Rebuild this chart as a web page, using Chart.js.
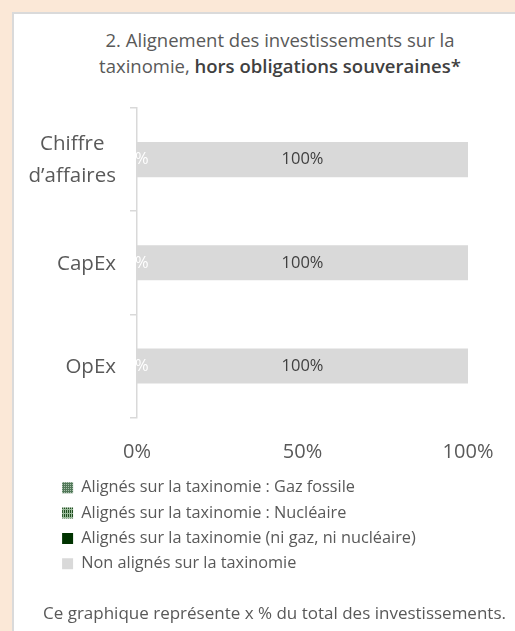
<!DOCTYPE html>
<html lang="fr">
<head>
<meta charset="utf-8">
<script src="https://cdn.jsdelivr.net/npm/chart.js@4/dist/chart.umd.min.js"></script>
<style>
  html, body { margin: 0; padding: 0; }
  body { width: 515px; height: 631px; background: #fbe8d7; position: relative; overflow: hidden; font-family: "Open Sans", sans-serif; color: #595959; }
  #cadre { position: absolute; left: 12px; top: 12px; width: 520px; height: 640px; background: #fff; border: 2px solid #dadada; box-sizing: border-box; }
  #titre { position: absolute; left: 30px; top: 27px; width: 500px; text-align: center; font-size: 18.5px; line-height: 26px; }
  #titre b { color: #404040; font-weight: 600; }
  #note { position: absolute; left: 43px; top: 601px; font-size: 17px; white-space: nowrap; }
  #graph { position: absolute; left: 0; top: 0; }
</style>
</head>
<body>
<div id="cadre"></div>
<div id="titre">2. Alignement des investissements sur la<br>taxinomie, <b>hors obligations souveraines*</b></div>
<canvas id="graph" width="515" height="631"></canvas>
<div id="note">Ce graphique représente x % du total des investissements.</div>
<script>
// categories et valeurs (%)
var categories = [['Chiffre', 'd’affaires'], ['CapEx'], ['OpEx']];
var gazFossile = [0, 0, 0];
var nucleaire = [0, 0, 0];
var alignes = [0, 0, 0];
var nonAlignes = [100, 100, 100];
var ticksX = [0, 50, 100];

var police = '"Open Sans"';

// petits motifs pour gaz et nucleaire
function motif(fond, trait, type) {
	var c = document.createElement('canvas');
	c.width = 4; c.height = 4;
	var g = c.getContext('2d');
	g.fillStyle = fond;
	g.fillRect(0, 0, 4, 4);
	g.fillStyle = trait;
	if (type === 'points') {
		g.fillRect(0, 0, 1, 1); g.fillRect(2, 2, 1, 1);
		g.fillRect(2, 0, 1, 1); g.fillRect(0, 2, 1, 1);
	} else {
		g.fillRect(1, 0, 1, 4); g.fillRect(3, 0, 1, 4);
		g.fillRect(0, 1, 4, 1);
	}
	return g.createPattern(c, 'repeat');
}

var ctx = document.getElementById('graph').getContext('2d');

// etiquettes des barres
var etiquettes = {
	id: 'etiquettes',
	afterDatasetsDraw: function (chart) {
		var c = chart.ctx;
		c.save();
		c.font = '16.5px ' + police;
		c.textAlign = 'center';
		c.textBaseline = 'middle';
		chart.data.datasets.forEach(function (ds, i) {
			if (!ds.couleurTexte) return;
			chart.getDatasetMeta(i).data.forEach(function (bar, j) {
				c.fillStyle = ds.couleurTexte;
				c.fillText(ds.data[j] + '%', (bar.x + bar.base) / 2, bar.y);
			});
		});
		c.restore();
	}
};

// libelles des categories, centres dans leur bloc
var libelles = {
	id: 'libelles',
	afterDraw: function (chart) {
		var c = chart.ctx;
		var y = chart.scales.y;
		var droite = chart.chartArea.left - 21;
		c.save();
		c.font = '20.5px ' + police;
		c.fillStyle = '#595959';
		c.textAlign = 'center';
		c.textBaseline = 'middle';
		categories.forEach(function (lignes, i) {
			var larg = 0;
			lignes.forEach(function (l) { larg = Math.max(larg, c.measureText(l).width); });
			var cx = droite - larg / 2;
			var cy = y.getPixelForValue(i) + 1;
			var h = 32;
			lignes.forEach(function (l, k) {
				c.fillText(l, cx, cy + (k - (lignes.length - 1) / 2) * h);
			});
		});
		c.restore();
	}
};

var chart = new Chart(ctx, {
	type: 'bar',
	data: {
		labels: categories,
		datasets: [
			{ label: 'Alignés sur la taxinomie : Gaz fossile', data: gazFossile, backgroundColor: motif('#52785a', '#a9c2ab', 'points') },
			{ label: 'Alignés sur la taxinomie : Nucléaire', data: nucleaire, backgroundColor: motif('#1f4d1f', '#9bbb9b', 'grille') },
			{ label: 'Alignés sur la taxinomie (ni gaz, ni nucléaire)', data: alignes, backgroundColor: '#003300', couleurTexte: '#ffffff' },
			{ label: 'Non alignés sur la taxinomie', data: nonAlignes, backgroundColor: '#d9d9d9', couleurTexte: '#404040' }
		]
	},
	options: {
		indexAxis: 'y',
		responsive: false,
		animation: false,
		events: [],
		layout: { padding: { top: 108, left: 53, right: 47, bottom: 49 } },
		datasets: { bar: { categoryPercentage: 1, barPercentage: 0.34, borderWidth: 0 } },
		scales: {
			x: {
				stacked: true,
				min: 0,
				max: 100,
				afterBuildTicks: function (s) { s.ticks = ticksX.map(function (v) { return { value: v }; }); },
				afterFit: function (s) { s.height = 52.8; },
				grid: { display: false },
				border: { display: false },
				ticks: { padding: 15, color: '#595959', font: { family: police, size: 20 }, callback: function (v) { return v + '%'; } }
			},
			y: {
				stacked: true,
				afterFit: function (s) { s.width = 84; },
				grid: { offset: true, drawOnChartArea: false, drawTicks: true, tickLength: 7, color: '#d9d9d9', lineWidth: 1.5 },
				border: { color: '#d9d9d9', width: 1.5 },
				ticks: { display: false }
			}
		},
		plugins: {
			tooltip: { enabled: false },
			legend: {
				position: 'bottom',
				align: 'start',
				labels: { boxWidth: 11, boxHeight: 11, padding: 9.1, color: '#595959', font: { family: police, size: 16.3 } }
			}
		}
	},
	plugins: [etiquettes, libelles]
});
</script>
</body>
</html>
